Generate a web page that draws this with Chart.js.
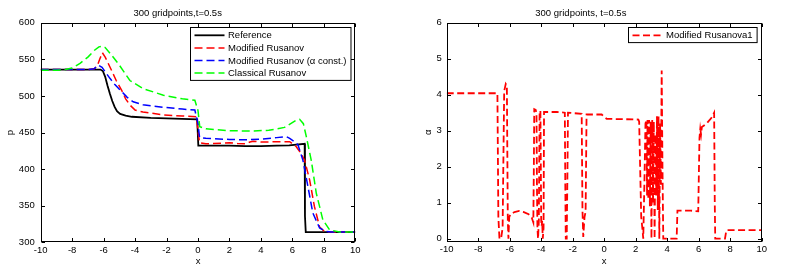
<!DOCTYPE html>
<html>
<head>
<meta charset="utf-8">
<script src="https://cdn.jsdelivr.net/npm/chart.js@4.4.0/dist/chart.umd.min.js"></script>
<style>
html, body { margin: 0; padding: 0; background: #fff; }
#wrap { position: relative; width: 805px; height: 272px; }
#pChart { position: absolute; left: 0; top: 0; }
#alphaChart { position: absolute; left: 400px; top: 0; }
</style>
</head>
<body>
<div id="wrap">
  <canvas id="pChart" width="400" height="272"></canvas>
  <canvas id="alphaChart" width="405" height="272"></canvas>
</div>
<script>
// tick labels
const xTicks = [-10, -8, -6, -4, -2, 0, 2, 4, 6, 8, 10];
const pTicks = [300, 350, 400, 450, 500, 550, 600];
const alphaTicks = [0, 1, 2, 3, 4, 5, 6];

// left plot: p(x), 300 gridpoints, t=0.5s
const refX = [-10, -6.2, -6.05, -5.9, -5.75, -5.6, -5.45, -5.3, -5.15, -4.95, -4.6, -4.2, -3, -1, -0.05, 0.02, 1, 2, 3, 4, 5, 5.8, 6.78, 6.8, 6.85, 10];
const refP = [536, 536, 534, 526, 514, 503, 493, 485, 479, 475.5, 473, 471.5, 470, 468.5, 468, 432, 432, 432, 431.5, 431.5, 432, 432.5, 434.5, 336, 314, 314];

const modX = [-10, -7, -6.6, -6.4, -6.25, -6.08, -5.9, -5.5, -5.2, -4.86, -4.6, -4.33, -4.0, -3.5, -2.2, -1, -0.1, 0, 0.1, 0.5, 1, 2, 2.5, 3, 3.3, 3.5, 4, 4.5, 5, 5.5, 5.83, 6.25, 6.5, 6.78, 7.1, 7.4, 7.73, 8.05, 8.5, 10];
const modP = [536, 536, 537, 541, 550, 559, 553, 535, 521, 508, 496, 487.6, 480.7, 478, 474, 472.5, 471.6, 452, 436, 434.5, 435, 436, 435, 434.5, 437, 438, 437, 437, 437.5, 437.5, 437.5, 430.6, 423, 412, 385, 349, 321, 314.5, 314, 314];

const modConstX = [-10, -7, -6.6, -6.35, -6.1, -5.9, -5.6, -5.3, -4.86, -4.5, -4.12, -3.5, -2.2, -1, -0.2, 0, 0.1, 0.5, 1, 2, 3, 4, 5, 5.6, 5.83, 6.1, 6.36, 6.67, 6.99, 7.3, 7.73, 8.1, 8.5, 10];
const modConstP = [536, 536, 537, 542, 539, 533, 524, 516, 506, 498, 492, 488, 484.5, 482, 480.7, 462, 443, 442, 441.5, 440.5, 440, 441, 443, 444.5, 442, 438, 433, 412, 376, 340, 319.5, 315, 314, 314];

const classX = [-10, -9, -8.5, -8, -7.5, -7, -6.6, -6.3, -6.1, -5.9, -5.5, -5, -4.33, -3.5, -2.2, -1, -0.2, 0, 0.11, 0.5, 1, 2, 3.3, 4.5, 5.5, 6.25, 6.46, 6.7, 6.89, 7.2, 7.52, 7.94, 8.37, 9, 10];
const classP = [535, 535, 535.5, 538, 544.5, 553, 562, 567, 568, 566, 556, 542, 521, 510, 501, 496, 494, 480, 458, 455, 454, 452.5, 452, 453, 457, 467, 468, 462, 444, 412, 367, 330.5, 317, 314, 314];

// right plot: alpha(x)
const alphaX = [-10, -6.78, -6.72, -6.65, -6.55, -6.45, -6.35, -6.25, -6.18, -6.12, -6.08, -6.03, -5.95, -5.7, -5.4, -5.1, -4.8, -4.6, -4.5, -4.47,
  -4.44, -4.35, -4.3, -4.27, -4.24, -4.2, -4.15, -4.1, -4.05, -4.0, -3.97, -3.94, -3.9, -3.85, -3.82, -3.0, -2.5, -2.47, -2.44, -2.38,
  -2.33, -2.3, -1.43, -1.38, -1.33, -1.25, -1.18, -1.12, -0.16, 0.0, 0.16, 2.17, 2.22, 2.35, 2.42, 2.48, 2.55, 2.62, 2.68, 2.72,
  2.75, 2.8, 2.85, 2.9, 2.95, 3.0, 3.05, 3.1, 3.15, 3.2, 3.25, 3.3, 3.35, 3.4, 3.45, 3.5, 3.55, 3.6, 3.65, 3.7,
  3.75, 4.6, 4.65, 5.5, 5.97, 6.05, 6.1, 6.15, 6.2, 6.5, 6.8, 6.98, 7.02, 7.05, 7.67, 7.75, 7.8, 10];
const alphaVal = [4.04, 4.04, 0.6, 0, 0, 0.3, 4.1, 4.3, 4.25, 0.5, 0, 0.6, 0.68, 0.74, 0.77, 0.74, 0.68, 0.58, 0.45, 1.8,
  3.6, 3.58, 3.5, 1.5, 0.3, 0, 0.5, 3.55, 3.55, 0.5, 0.35, 0.5, 0, 0.3, 3.52, 3.52, 3.5, 1.5, 0, 0,
  2, 3.5, 3.47, 0.8, 0.05, 0.6, 0.75, 3.45, 3.45, 3.38, 3.33, 3.31, 3.25, 0.6, 0.3, 0, 1.5, 3.2, 3.3, 1.2,
  3.3, 1.1, 3.3, 0.9, 3.25, 0, 3.3, 1.0, 3.25, 0, 2.9, 1.2, 3.4, 0.8, 3.4, 0, 3.2, 1.5, 4.67, 2.0,
  0, 0, 0.78, 0.78, 0.76, 2.8, 3.05, 2.9, 3.1, 3.2, 3.35, 3.5, 1.0, 0, 0, 0.22, 0.24, 0.24];

const FONT = '"Liberation Sans", Arial, Helvetica, sans-serif';
Chart.defaults.font.family = FONT;
Chart.defaults.font.size = 9.5;
Chart.defaults.color = '#000';

function pts(xs, ys) {
  return xs.map((x, i) => ({ x: x, y: ys[i] }));
}

// matlab style box with inward ticks
const boxPlugin = {
  id: 'box',
  afterDatasetsDraw(chart) {
    const ctx = chart.ctx, a = chart.chartArea;
    const xs = chart.scales.x, ys = chart.scales.y;
    const L = Math.round(a.left) + 0.5, R = Math.round(a.right) - 0.5;
    const T = Math.round(a.top) + 0.5, B = Math.round(a.bottom) - 0.5;
    ctx.save();
    ctx.strokeStyle = '#000';
    ctx.lineWidth = 1;
    ctx.setLineDash([]);
    ctx.strokeRect(L, T, R - L, B - T);
    ctx.beginPath();
    xs.ticks.forEach(t => {
      const px = Math.round(xs.getPixelForValue(t.value)) + 0.5;
      ctx.moveTo(px, B); ctx.lineTo(px, B - 3.5);
      ctx.moveTo(px, T); ctx.lineTo(px, T + 3.5);
    });
    ys.ticks.forEach(t => {
      const py = Math.round(ys.getPixelForValue(t.value)) + 0.5;
      ctx.moveTo(L, py); ctx.lineTo(L + 3.5, py);
      ctx.moveTo(R, py); ctx.lineTo(R - 3.5, py);
    });
    ctx.stroke();
    ctx.restore();
  }
};

// legend drawn inside the axes, top right
const boxLegend = {
  id: 'boxLegend',
  afterDraw(chart) {
    const ctx = chart.ctx, a = chart.chartArea;
    const items = chart.data.datasets;
    const rowH = 12.6;
    ctx.save();
    ctx.font = '9.5px ' + FONT;
    const tw = Math.max(...items.map(d => ctx.measureText(d.label).width));
    const w = 37.5 + tw + 4.5, h = items.length * rowH + 2.5;
    const x0 = Math.round(a.right - 5 - w) + 0.5, y0 = Math.round(a.top + 4) + 0.5;
    ctx.fillStyle = '#fff';
    ctx.fillRect(x0, y0, w, h);
    ctx.strokeStyle = '#000';
    ctx.lineWidth = 1;
    ctx.strokeRect(x0, y0, w, h);
    items.forEach((d, i) => {
      const y = y0 + 1.5 + rowH * (i + 0.5);
      ctx.beginPath();
      ctx.setLineDash(d.borderDash || []);
      ctx.strokeStyle = d.borderColor;
      ctx.lineWidth = d.borderWidth;
      ctx.moveTo(x0 + 4, y);
      ctx.lineTo(x0 + 34, y);
      ctx.stroke();
      ctx.setLineDash([]);
      ctx.fillStyle = '#000';
      ctx.textBaseline = 'middle';
      ctx.fillText(d.label, x0 + 37.5, y + 0.5);
    });
    ctx.restore();
  }
};

function makeScales(yTickList, yMin, yMax, yLabel, yWidth, yPad, yTitlePad, xHeight) {
  return {
    x: {
      type: 'linear', min: -10, max: 10,
      afterBuildTicks: s => { s.ticks = xTicks.map(v => ({ value: v })); },
      afterFit: s => { s.height = xHeight; },
      grid: { display: false, drawTicks: false },
      border: { display: false },
      ticks: { padding: 2, maxRotation: 0, autoSkip: false },
      title: { display: true, text: 'x', padding: { top: 0, bottom: 5 } }
    },
    y: {
      type: 'linear', min: yMin, max: yMax,
      afterBuildTicks: s => { s.ticks = yTickList.map(v => ({ value: v })); },
      afterFit: s => { s.width = yWidth; },
      grid: { display: false, drawTicks: false },
      border: { display: false },
      ticks: { padding: yPad, autoSkip: false },
      title: { display: true, text: yLabel, padding: { top: yTitlePad, bottom: 0 } }
    }
  };
}

function titleOpts(text) {
  return {
    display: true, text: text, color: '#000',
    font: { size: 9.5, weight: 'normal' },
    padding: { top: 7.3, bottom: 4 }
  };
}

new Chart(document.getElementById('pChart'), {
  type: 'scatter',
  data: {
    datasets: [
      { label: 'Reference', data: pts(refX, refP), borderColor: '#000000', borderWidth: 1.8, order: 4 },
      { label: 'Modified Rusanov', data: pts(modX, modP), borderColor: '#ff0000', borderWidth: 1.5, borderDash: [8, 4], order: 3 },
      { label: 'Modified Rusanov (\u03b1 const.)', data: pts(modConstX, modConstP), borderColor: '#0000ff', borderWidth: 1.5, borderDash: [8, 4], order: 2 },
      { label: 'Classical Rusanov', data: pts(classX, classP), borderColor: '#00ff00', borderWidth: 1.5, borderDash: [8, 4], order: 1 }
    ]
  },
  options: {
    responsive: false,
    animation: false,
    showLine: true,
    elements: { point: { radius: 0 }, line: { tension: 0, fill: false } },
    layout: { padding: { left: 0, right: 44.7, top: 0, bottom: 0 } },
    plugins: { legend: { display: false }, tooltip: { enabled: false }, title: titleOpts('300 gridpoints,t=0.5s') },
    scales: makeScales(pTicks, 300, 600, 'p', 40.7, 6, 4.3, 29.7)
  },
  plugins: [boxPlugin, boxLegend]
});

new Chart(document.getElementById('alphaChart'), {
  type: 'scatter',
  data: {
    datasets: [
      { label: 'Modified Rusanova1', data: pts(alphaX, alphaVal), borderColor: '#ff0000', borderWidth: 1.8, borderDash: [7, 3.5] }
    ]
  },
  options: {
    responsive: false,
    animation: false,
    showLine: true,
    elements: { point: { radius: 0 }, line: { tension: 0, fill: false } },
    layout: { padding: { left: 0, right: 43.3, top: 0, bottom: 0 } },
    plugins: { legend: { display: false }, tooltip: { enabled: false }, title: titleOpts('300 gridpoints, t=0.5s') },
    scales: makeScales(alphaTicks, -0.083, 6, '\u03b1', 46.7, 5, 22.3, 30.3)
  },
  plugins: [boxPlugin, boxLegend]
});
</script>
</body>
</html>
